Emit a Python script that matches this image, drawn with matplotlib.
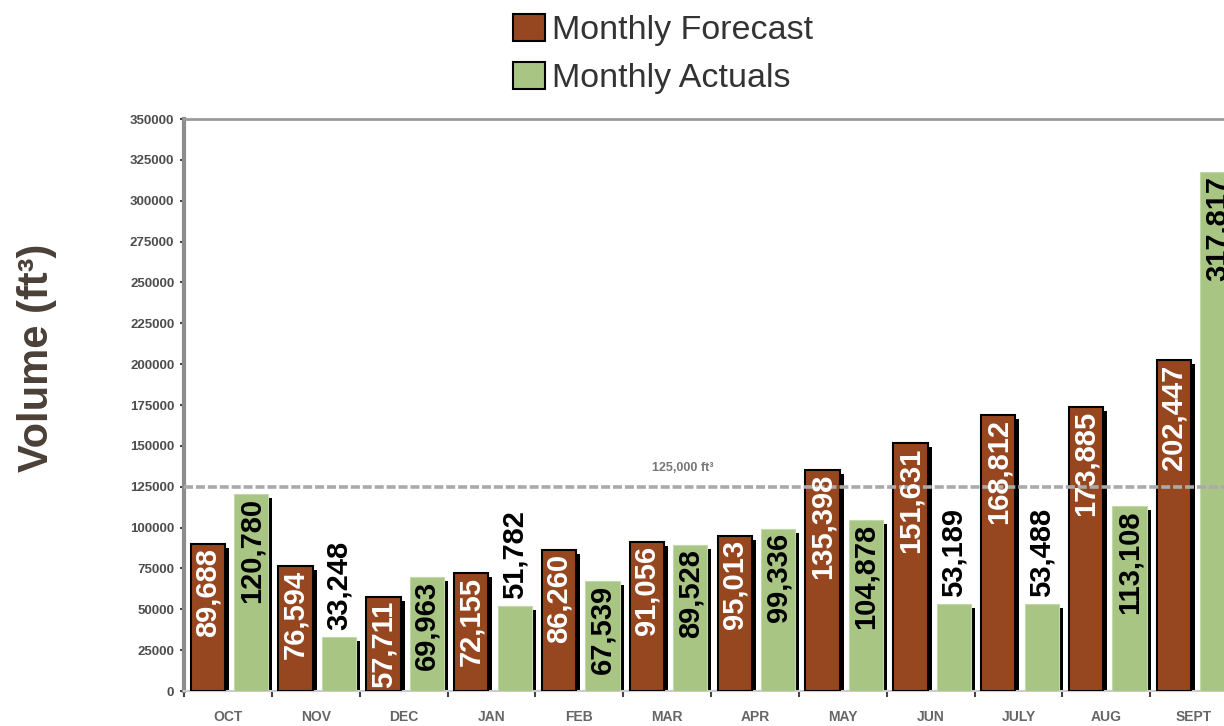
import matplotlib
matplotlib.use("Agg")
import matplotlib.pyplot as plt
from matplotlib.patches import Patch
import numpy as np

plt.rcParams['font.family'] = ['Liberation Sans', 'DejaVu Sans']

months = ["OCT", "NOV", "DEC", "JAN", "FEB", "MAR", "APR", "MAY", "JUN", "JULY", "AUG", "SEPT"]
forecast = [89688, 76594, 57711, 72155, 86260, 91056, 95013, 135398, 151631, 168812, 173885, 202447]
actuals = [120780, 33248, 69963, 51782, 67539, 89528, 99336, 104878, 53189, 53488, 113108, 317817]
yticks = list(range(0, 350001, 25000))
threshold = 125000

brown = "#97471F"
green = "#A8C584"
txt_gray = "#4d4d4d"

fig = plt.figure(figsize=(12.24, 7.26), dpi=100)
ax = fig.add_axes([184/1224, 35/726, 1054/1224, 572/726])

x = np.arange(len(months))
w = 0.39
xf = x + 0.27
xa = x + 0.765
# shadow offsets (about 4 px right / 4 px down)
dx = 4/87.85
dy = 350000*4/572

ax.bar(xf + dx, np.array(forecast) - dy, w, color="black", zorder=2)
ax.bar(xa + dx, np.array(actuals) - dy, w, color="black", zorder=2)
ax.bar(xf, forecast, w, color=brown, edgecolor="black", linewidth=1.5, zorder=3)
ax.bar(xa, actuals, w, color=green, edgecolor="#c2d8a9", linewidth=0.8, zorder=3)

ax.axhline(threshold, color="#aaaaaa", lw=2.6, linestyle=(0, (2.5, 0.8)), zorder=4)
ax.text(5.68, threshold + 8000, "125,000 ft³", ha="center", va="bottom",
        fontsize=9, fontweight="bold", color="#777777", zorder=5)

def put_label(xpos, v, col):
    s = f"{v:,}"
    if v > 55000:
        ax.annotate(s, (xpos, v), xytext=(0, -3), textcoords="offset points",
                    rotation=90, ha="center", va="top", fontsize=21,
                    fontweight="bold", color=col, zorder=6)
    else:
        ax.annotate(s, (xpos, v), xytext=(0, 5), textcoords="offset points",
                    rotation=90, ha="center", va="bottom", fontsize=21,
                    fontweight="bold", color="black", zorder=6)

for i in range(len(months)):
    put_label(xf[i], forecast[i], "white")
    put_label(xa[i], actuals[i], "black")

ax.set_xlim(0, 12)
ax.set_ylim(0, 350000)
ax.set_yticks(yticks)
ax.set_yticklabels([str(t) for t in yticks], fontsize=9.5, fontweight="bold", color=txt_gray)
ax.tick_params(axis="y", direction="out", length=3, width=1.5, color="#444444", pad=4)

ax.set_xticks(x + 0.5)
ax.set_xticklabels(months, fontsize=10, fontweight="bold", color="#666666")
ax.tick_params(axis="x", which="major", length=0, pad=14)
ax.set_xticks(np.arange(0, 13), minor=True)
ax.tick_params(axis="x", which="minor", direction="out", length=4, width=1.5, color="#444444")

ax.spines["left"].set_color("#8c8c8c")
ax.spines["left"].set_linewidth(3)
ax.spines["top"].set_color("#9a9a9a")
ax.spines["top"].set_linewidth(2)
ax.spines["bottom"].set_color("#cccccc")
ax.spines["bottom"].set_linewidth(1.5)
ax.spines["right"].set_visible(False)

fig.text(0.030, 0.507, "Volume (ft³)", rotation=90, ha="center", va="center",
         fontsize=30, fontweight="bold", color="#4a4038")

handles = [Patch(facecolor=brown, edgecolor="black", linewidth=1.5),
           Patch(facecolor=green, edgecolor="black", linewidth=1.5)]
fig.legend(handles, ["Monthly Forecast", "Monthly Actuals"], loc="upper left",
           bbox_to_anchor=(496/1224, 1 + 3/726), frameon=False, fontsize=24.5,
           handlelength=0.95, handleheight=0.85, handletextpad=0.2,
           labelspacing=0.45, borderpad=0, labelcolor="#333333")

fig.savefig("out.png", dpi=100)
